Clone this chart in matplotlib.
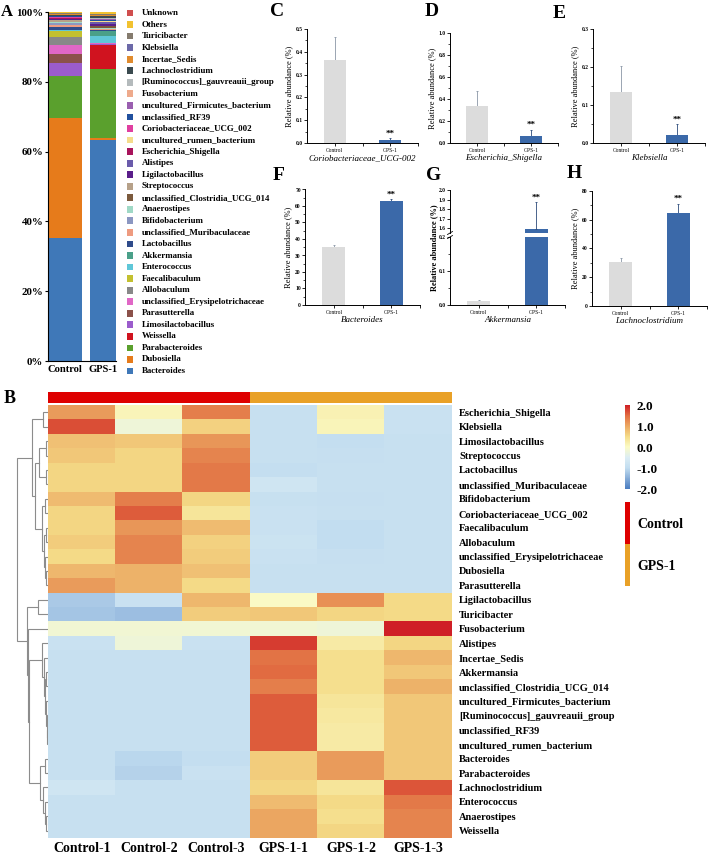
import numpy as np
import matplotlib
matplotlib.use('Agg')
import matplotlib.pyplot as plt
from matplotlib.colors import LinearSegmentedColormap, ListedColormap
from matplotlib.ticker import FormatStrFormatter, MultipleLocator, FixedLocator

plt.rcParams['font.family'] = ['Liberation Serif', 'DejaVu Serif']
plt.rcParams['font.weight'] = 'bold'
plt.rcParams['axes.unicode_minus'] = False

W, H = 708, 855

# ---------------- Panel A data (legend order, top -> bottom) ----------------
taxa = ['Unknown', 'Others', 'Turicibacter', 'Klebsiella', 'Incertae_Sedis',
        'Lachnoclostridium', '[Ruminococcus]_gauvreauii_group', 'Fusobacterium',
        'uncultured_Firmicutes_bacterium', 'unclassified_RF39',
        'Coriobacteriaceae_UCG_002', 'uncultured_rumen_bacterium',
        'Escherichia_Shigella', 'Alistipes', 'Ligilactobacillus', 'Streptococcus',
        'unclassified_Clostridia_UCG_014', 'Anaerostipes', 'Bifidobacterium',
        'unclassified_Muribaculaceae', 'Lactobacillus', 'Akkermansia',
        'Enterococcus', 'Faecalibaculum', 'Allobaculum',
        'unclassified_Erysipelotrichaceae', 'Parasutterella',
        'Limosilactobacillus', 'Weissella', 'Parabacteroides', 'Dubosiella',
        'Bacteroides']
taxa_colors = ['#d04e4e', '#f2c230', '#857b6e', '#6c69a8', '#e08b2e',
               '#3b4a4f', '#b4babc', '#eeaa8c', '#9a5fb0', '#21509e',
               '#e03fa0', '#f5dc8c', '#a8145c', '#6a5bab', '#5a1e8a', '#b6a189',
               '#7b5a3d', '#a0d9c6', '#8b97c1', '#ee9b80', '#2f4b8b', '#4aa089',
               '#5fc7d8', '#c3c030', '#888888', '#e067c6', '#8b514a',
               '#9b5ccc', '#d0131f', '#5aa02d', '#e67b1b', '#3f78b8']
control_pct = [0.2, 0.5, 0.1, 0.15, 0.1, 0.3, 0.05, 0.05, 0.1, 0.05, 0.35, 0.05,
               0.35, 0.05, 0.3, 0.5, 0.1, 0.1, 0.5, 0.6, 0.9, 0.1, 0.3, 1.8, 2.1,
               2.6, 2.7, 3.5, 0.1, 12.1, 34.3, 35.3]
gps_pct = [0.2, 1.7, 0.2, 0.05, 0.3, 0.4, 0.3, 0.1, 0.4, 0.3, 0.02, 0.2, 0.05,
           0.4, 0.6, 0.1, 0.4, 0.5, 0.05, 0.1, 0.3, 1.6, 1.8, 0.1, 0.1, 0.1,
           0.1, 0.2, 7.0, 19.7, 0.6, 63.3]
groups = ['Control', 'GPS-1']
bar_width = [0.9, 0.7]

# ---------------- Panels C-H data ----------------
panel_letters = ['C', 'D', 'E', 'F', 'G', 'H']
panel_taxa = ['Coriobacteriaceae_UCG-002', 'Escherichia_Shigella', 'Klebsiella',
              'Bacteroides', 'Akkermansia', 'Lachnoclostridium']
ctrl_mean = [0.365, 0.34, 0.133, 35.4, 0.012, 30.8]
ctrl_err = [0.10, 0.13, 0.07, 1.0, 0.004, 2.6]
gps_mean = [0.015, 0.065, 0.022, 63.0, 1.59, 64.9]
gps_err = [0.005, 0.055, 0.028, 1.2, 0.28, 6.1]
panel_ylim = [(0, 0.5), (0, 1.0), (0, 0.3), (0, 70), (0, 0.2), (0, 80)]
panel_ystep = [0.1, 0.2, 0.1, 10, 0.1, 20]
panel_fmt = ['%.1f', '%.1f', '%.1f', '%d', '%.1f', '%d']
g_upper_ylim = (1.55, 2.0)
g_upper_ticks = [1.6, 1.7, 1.8, 1.9, 2.0]

# ---------------- Heatmap data ----------------
samples = ['Control-1', 'Control-2', 'Control-3', 'GPS-1-1', 'GPS-1-2', 'GPS-1-3']
sample_group = [0, 0, 0, 1, 1, 1]
heat_rows = ['Escherichia_Shigella', 'Klebsiella', 'Limosilactobacillus',
             'Streptococcus', 'Lactobacillus', 'unclassified_Muribaculaceae',
             'Bifidobacterium', 'Coriobacteriaceae_UCG_002', 'Faecalibaculum',
             'Allobaculum', 'unclassified_Erysipelotrichaceae', 'Dubosiella',
             'Parasutterella', 'Ligilactobacillus', 'Turicibacter', 'Fusobacterium',
             'Alistipes', 'Incertae_Sedis', 'Akkermansia',
             'unclassified_Clostridia_UCG_014', 'uncultured_Firmicutes_bacterium',
             '[Ruminococcus]_gauvreauii_group', 'unclassified_RF39',
             'uncultured_rumen_bacterium', 'Bacteroides', 'Parabacteroides',
             'Lachnoclostridium', 'Enterococcus', 'Anaerostipes', 'Weissella']
heat_values = [
    [1.10, 0.10, 1.35, -0.90, 0.15, -0.85],
    [1.70, -0.20, 0.60, -0.90, 0.10, -0.85],
    [0.75, 0.70, 1.15, -0.90, -0.95, -0.90],
    [0.70, 0.55, 1.30, -0.90, -0.92, -0.88],
    [0.55, 0.55, 1.40, -0.95, -0.90, -0.90],
    [0.55, 0.55, 1.40, -0.75, -0.90, -0.88],
    [0.80, 1.35, 0.55, -0.90, -0.92, -0.90],
    [0.55, 1.60, 0.35, -0.85, -0.88, -0.90],
    [0.55, 1.15, 0.80, -0.85, -1.00, -0.90],
    [0.65, 1.30, 0.60, -0.80, -1.00, -0.90],
    [0.50, 1.30, 0.65, -0.85, -0.92, -0.90],
    [0.85, 0.90, 0.75, -0.88, -0.90, -0.90],
    [1.10, 0.90, 0.50, -0.90, -0.90, -0.90],
    [-1.20, -0.85, 0.85, 0.00, 1.20, 0.50],
    [-1.25, -1.30, 0.65, 0.70, 0.55, 0.50],
    [-0.15, -0.15, -0.15, -0.15, -0.20, 2.10],
    [-0.85, -0.20, -0.85, 1.80, 0.25, 0.55],
    [-0.90, -0.90, -0.90, 1.45, 0.45, 0.85],
    [-0.90, -0.90, -0.90, 1.50, 0.45, 0.70],
    [-0.90, -0.90, -0.90, 1.35, 0.45, 0.90],
    [-0.90, -0.90, -0.90, 1.60, 0.35, 0.70],
    [-0.90, -0.90, -0.90, 1.60, 0.30, 0.70],
    [-0.90, -0.88, -0.90, 1.60, 0.25, 0.70],
    [-0.88, -0.88, -0.88, 1.60, 0.25, 0.70],
    [-0.90, -1.05, -0.95, 0.65, 1.10, 0.70],
    [-0.90, -1.10, -0.85, 0.65, 1.10, 0.70],
    [-0.75, -0.90, -0.90, 0.55, 0.35, 1.65],
    [-0.90, -0.90, -0.90, 0.80, 0.50, 1.40],
    [-0.90, -0.90, -0.90, 1.00, 0.45, 1.30],
    [-0.90, -0.90, -0.90, 1.00, 0.55, 1.30],
]
# row dendrogram: (merge height, left, right); leaves are row indices
row_tree = (31,
            (16, (5, 0, 1),
             (13, (9, (2, 2, 3), (2, 4, 5)),
              (6, (3, 6, 7), (4, (2, 8, 9), (3, 10, (2, 11, 12)))))),
            (21.5, (10, 13, 14),
             (20.5, 15,
              (19, (6, 16, (4.5, 17, (3.5, (2, 18, 19), (2.5, 20, (1.5, 21, (1, 22, 23)))))),
               (8, (3, 24, 25), (5, 26, (3, 27, (2, 28, 29))))))))

# ---------------- helpers ----------------
fig = plt.figure(figsize=(W / 100, H / 100), dpi=100)


def add_px(l, t, r, b, **kw):
    return fig.add_axes([l / W, 1 - b / H, (r - l) / W, (b - t) / H], **kw)


def fig_letter(x, y, s, size):
    fig.text(x / W, 1 - y / H, s, ha='center', va='center', fontsize=size,
             fontweight='bold')


# ---------------- Panel A ----------------
axA = add_px(48, 12, 116, 361)
bottoms = [0.0, 0.0]
for name, col, c, g in zip(taxa[::-1], taxa_colors[::-1], control_pct[::-1], gps_pct[::-1]):
    vals = [c, g]
    axA.bar([0, 1], vals, width=bar_width, bottom=bottoms, color=col,
            edgecolor='none')
    bottoms = [bottoms[0] + c, bottoms[1] + g]
axA.set_xlim(-0.45, 1.35)
axA.set_ylim(0, 100)
axA.set_yticks(np.arange(0, 101, 20))
axA.yaxis.set_major_formatter(FormatStrFormatter('%d%%'))
axA.set_xticks([0, 1])
axA.set_xticklabels(groups, fontsize=7.6)
axA.tick_params(axis='y', labelsize=7.8, length=2.5, width=0.8, pad=1)
axA.tick_params(axis='x', length=0, pad=3)
for s in ['top', 'right']:
    axA.spines[s].set_visible(False)
for s in ['left', 'bottom']:
    axA.spines[s].set_linewidth(0.8)
fig_letter(7, 12, 'A', 12)

# legend of panel A
axL = add_px(120, 7.2, 240, 376.8)
axL.set_xlim(0, 1)
axL.set_ylim(len(taxa) - 0.5, -0.5)
idx = np.arange(len(taxa))
axL.scatter(np.full(len(taxa), 0.083), idx, marker='s', s=24, c=taxa_colors,
            linewidths=0)
for i, name in enumerate(taxa):
    axL.text(0.18, i, name, va='center', ha='left', fontsize=6.4)
axL.axis('off')

# ---------------- Panels C-H ----------------
boxes = [(307, 29, 418, 143), (450, 33, 558, 143), (593, 29, 705, 143),
         (305, 189.5, 420, 305), (450, 237, 565, 305), (592, 191, 707, 306)]
letter_pos = [(277, 12), (432, 12), (559, 13), (279, 176), (434, 176), (574, 174)]
ctrl_color, gps_color = '#dcdcdc', '#3b69a9'


def style_small(ax, fmt, step, ylim):
    for s in ['top', 'right']:
        ax.spines[s].set_visible(False)
    for s in ['left', 'bottom']:
        ax.spines[s].set_linewidth(0.7)
    ax.yaxis.set_major_locator(MultipleLocator(step))
    ax.yaxis.set_minor_locator(MultipleLocator(step / 2))
    ax.yaxis.set_major_formatter(FormatStrFormatter(fmt))
    ax.tick_params(axis='y', which='major', labelsize=4, length=2, width=0.6, pad=1)
    ax.tick_params(axis='y', which='minor', length=1.2, width=0.5)
    ax.set_ylim(*ylim)


for k in range(6):
    l, t, r, b = boxes[k]
    ax = add_px(l, t, r, b)
    style_small(ax, panel_fmt[k], panel_ystep[k], panel_ylim[k])
    ax.set_xlim(-0.5, 1.5)
    ax.bar([0, 1], [ctrl_mean[k], gps_mean[k]], width=0.4,
           color=[ctrl_color, gps_color], edgecolor='none', zorder=2)
    ax.errorbar([0], [ctrl_mean[k]], yerr=[[0], [ctrl_err[k]]], fmt='none',
                ecolor='#8a96a6', elinewidth=0.6, capsize=1, capthick=0.6, zorder=1)
    ax.errorbar([1], [gps_mean[k]], yerr=[[0], [gps_err[k]]], fmt='none',
                ecolor='#2c4a7a', elinewidth=0.6, capsize=1, capthick=0.6, zorder=1)
    ax.set_xticks([0, 1])
    ax.set_xticklabels(groups, fontsize=4, fontweight='normal')
    ax.xaxis.set_minor_locator(FixedLocator([0.5, 1.5]))
    ax.tick_params(axis='x', which='major', length=2, width=0.6, pad=1.5)
    ax.tick_params(axis='x', which='minor', length=2, width=0.6)
    ax.set_xlabel(panel_taxa[k], fontsize=6.5, fontstyle='italic', labelpad=1)
    if k != 4:
        ax.set_ylabel('Relative abundance (%)', fontsize=6, labelpad=2)
        ax.annotate('**', (1, gps_mean[k] + gps_err[k]), xytext=(0, 0.5),
                    textcoords='offset points', ha='center', va='bottom',
                    fontsize=6.5)
    else:
        ax.set_ylim(0, 0.2)
        ax.yaxis.set_minor_locator(MultipleLocator(0.05))
        axU = add_px(l, 190, r, 233)
        axU.bar([0, 1], [ctrl_mean[k], gps_mean[k]], width=0.4,
                color=[ctrl_color, gps_color], edgecolor='none', zorder=2)
        axU.errorbar([1], [gps_mean[k]], yerr=[[0], [gps_err[k]]], fmt='none',
                     ecolor='#2c4a7a', elinewidth=0.6, capsize=1, capthick=0.6)
        axU.set_xlim(-0.5, 1.5)
        axU.set_ylim(*g_upper_ylim)
        axU.yaxis.set_major_locator(FixedLocator(g_upper_ticks))
        axU.yaxis.set_major_formatter(FormatStrFormatter('%.1f'))
        axU.tick_params(axis='y', labelsize=4, length=2, width=0.6, pad=1)
        for s in ['top', 'right', 'bottom']:
            axU.spines[s].set_visible(False)
        axU.spines['left'].set_linewidth(0.7)
        axU.set_xticks([])
        axU.annotate('**', (1, gps_mean[k] + gps_err[k]), xytext=(0, 0.5),
                     textcoords='offset points', ha='center', va='bottom',
                     fontsize=6.5)
        d = dict(transform=fig.transFigure, color='k', lw=0.6, clip_on=False)
        for yy in (233, 237):
            fig.add_artist(plt.Line2D([(l - 2.5) / W, (l + 2.5) / W],
                                      [1 - (yy + 1.5) / H, 1 - (yy - 1.5) / H], **d))
        fig.text((l - 16) / W, 1 - 248 / H, 'Relative abundance (%)', rotation=90,
                 ha='center', va='center', fontsize=6, fontweight='bold')
    fig_letter(letter_pos[k][0], letter_pos[k][1], panel_letters[k], 14)

# ---------------- Panel B heatmap ----------------
cmap = LinearSegmentedColormap.from_list(
    'hm', [(0.0, '#4a7cc0'), (0.25, '#c2ddf0'), (0.375, '#dcedf4'),
           (0.5, '#fbfbc6'), (0.625, '#f5dc88'), (0.75, '#eca862'),
           (0.875, '#e26e42'), (1.0, '#cf1f26')])
data = np.array(heat_values)
axH = add_px(48, 405, 452, 838)
im = axH.imshow(data, cmap=cmap, vmin=-2, vmax=2, aspect='auto',
                interpolation='nearest')
axH.set_yticks(np.arange(len(heat_rows)))
axH.set_yticklabels(heat_rows, fontsize=7.5)
axH.yaxis.tick_right()
axH.set_xticks(np.arange(len(samples)))
axH.set_xticklabels(samples, fontsize=10)
axH.tick_params(length=0)
axH.tick_params(axis='y', pad=5)
axH.tick_params(axis='x', pad=3)
for s in axH.spines.values():
    s.set_visible(False)

# column annotation
group_cmap = ListedColormap(['#de0000', '#e9a127'])
axAnn = add_px(48, 392, 452, 403)
axAnn.imshow([sample_group], cmap=group_cmap, vmin=0, vmax=1, aspect='auto')
axAnn.axis('off')

# dendrogram
axD = add_px(14, 405, 48, 838)


def draw_tree(node):
    if isinstance(node, int):
        return float(node), 0.0
    h, left, right = node
    yl, hl = draw_tree(left)
    yr, hr = draw_tree(right)
    axD.plot([hl, h, h, hr], [yl, yl, yr, yr], color='#8c8c8c', lw=0.8,
             solid_joinstyle='miter')
    return (yl + yr) / 2, h


draw_tree(row_tree)
axD.set_xlim(34, 0)
axD.set_ylim(len(heat_rows) - 0.5, -0.5)
axD.axis('off')

# colorbar
cax = add_px(625, 405, 630, 489)
cb = fig.colorbar(im, cax=cax, ticks=[2, 1, 0, -1, -2])
cb.outline.set_visible(False)
cb.ax.yaxis.set_major_formatter(FormatStrFormatter('%.1f'))
cb.ax.tick_params(length=0, labelsize=9.5, pad=5)

# group legend
axG = add_px(625, 502, 630, 586)
axG.imshow([[0], [1]], cmap=group_cmap, vmin=0, vmax=1, aspect='auto')
axG.set_xticks([])
axG.set_yticks([0, 1])
axG.set_yticklabels(groups, fontsize=10)
axG.yaxis.tick_right()
axG.tick_params(length=0, pad=5)
for s in axG.spines.values():
    s.set_visible(False)

fig_letter(10, 398, 'B', 13)

fig.savefig('out.png', dpi=100)
